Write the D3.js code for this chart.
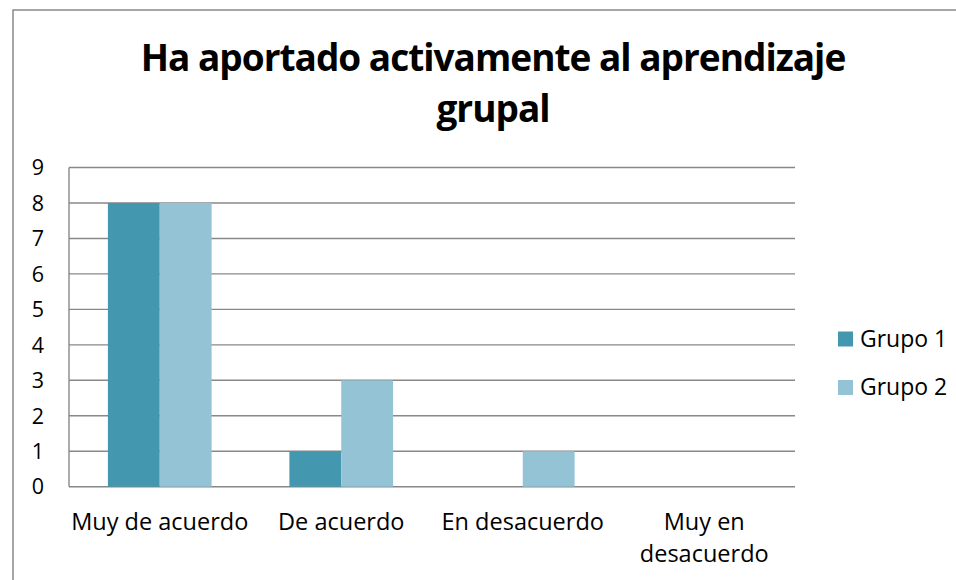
<!DOCTYPE html>
<html>
<head>
<meta charset="utf-8">
<script src="https://cdn.jsdelivr.net/npm/d3@7"></script>
<style>
  body { margin: 0; background: #fff; }
  text { font-family: "Open Sans", sans-serif; fill: #000; }
</style>
</head>
<body>
<svg width="956" height="580"></svg>
<script>
var svg = d3.select("svg"),
  width = +svg.attr("width"),
  height = +svg.attr("height");

// Data
var categories = ["Muy de acuerdo", "De acuerdo", "En desacuerdo", "Muy en desacuerdo"];
var labelLines = [["Muy de acuerdo"], ["De acuerdo"], ["En desacuerdo"], ["Muy en", "desacuerdo"]];
var series = ["Grupo 1", "Grupo 2"];
var grupo1 = [8, 1, 0, 0];
var grupo2 = [8, 3, 1, 0];
var yTicks = [0, 1, 2, 3, 4, 5, 6, 7, 8, 9];
var colors = ["#4398b0", "#93c3d5"];

var plot = { left: 69, right: 795, top: 167.5, bottom: 486.7 };

// outer border
svg.append("rect")
  .attr("x", 13).attr("y", 10)
  .attr("width", width + 10).attr("height", height + 10)
  .attr("fill", "none")
  .attr("stroke", "#898989")
  .attr("stroke-width", 1.5);

// title
var title = svg.append("text")
  .attr("text-anchor", "middle")
  .attr("font-weight", "bold")
  .attr("font-size", 37)
  .attr("letter-spacing", -1);
title.append("tspan").attr("x", 493).attr("y", 71).text("Ha aportado activamente al aprendizaje");
title.append("tspan").attr("x", 493).attr("y", 122).text("grupal");

var x = d3.scaleBand()
  .domain(categories)
  .range([plot.left, plot.right])
  .paddingInner(0)
  .paddingOuter(0);

// gap width 150% -> two bars take 1/(2+1.5) of band each
var barW = x.bandwidth() / 3.5;
var xs = d3.scaleBand()
  .domain(series)
  .range([barW * 0.75, barW * 2.75]);

var y = d3.scaleLinear()
  .domain([0, 9])
  .range([plot.bottom, plot.top]);

// gridlines
svg.append("g")
  .selectAll("line")
  .data(yTicks)
  .enter()
  .append("line")
    .attr("x1", plot.left).attr("x2", plot.right)
    .attr("y1", function(d) { return y(d); })
    .attr("y2", function(d) { return y(d); })
    .attr("stroke", "#888")
    .attr("stroke-width", 1.4);

// y axis line
svg.append("line")
  .attr("x1", plot.left).attr("x2", plot.left)
  .attr("y1", y(9)).attr("y2", y(0))
  .attr("stroke", "#888")
  .attr("stroke-width", 1.4);

// y tick labels
svg.append("g")
  .selectAll("text")
  .data(yTicks)
  .enter()
  .append("text")
    .attr("x", 44)
    .attr("y", function(d) { return y(d); })
    .attr("dy", "0.36em")
    .attr("text-anchor", "end")
    .attr("font-size", 21.5)
    .text(function(d) { return d; });

// bars
var rows = categories.map(function(c, i) { return { cat: c, vals: [grupo1[i], grupo2[i]] }; });
var groups = svg.append("g")
  .selectAll("g")
  .data(rows)
  .enter()
  .append("g")
    .attr("transform", function(d) { return "translate(" + x(d.cat) + ",0)"; });

groups.selectAll("rect")
  .data(function(d) { return d.vals.map(function(v, j) { return { s: series[j], v: v, j: j }; }); })
  .enter()
  .append("rect")
    .attr("x", function(d) { return xs(d.s); })
    .attr("width", xs.bandwidth())
    .attr("y", function(d) { return y(d.v); })
    .attr("height", function(d) { return y(0) - y(d.v); })
    .attr("fill", function(d) { return colors[d.j]; });

// x labels
svg.append("g")
  .selectAll("text")
  .data(categories)
  .enter()
  .append("text")
    .attr("text-anchor", "middle")
    .attr("font-size", 23.5)
    .each(function(d, i) {
      var t = d3.select(this);
      labelLines[i].forEach(function(line, k) {
        t.append("tspan")
          .attr("x", x(d) + x.bandwidth() / 2)
          .attr("y", 530 + k * 32)
          .text(line);
      });
    });

// legend
var legend = svg.append("g")
  .selectAll("g")
  .data(series)
  .enter()
  .append("g")
    .attr("transform", function(d, i) { return "translate(838," + (331.5 + i * 48.5) + ")"; });

legend.append("rect")
  .attr("width", 15).attr("height", 15)
  .attr("fill", function(d, i) { return colors[i]; });

legend.append("text")
  .attr("x", 22)
  .attr("y", 15)
  .attr("font-size", 23)
  .text(function(d) { return d; });
</script>
</body>
</html>
